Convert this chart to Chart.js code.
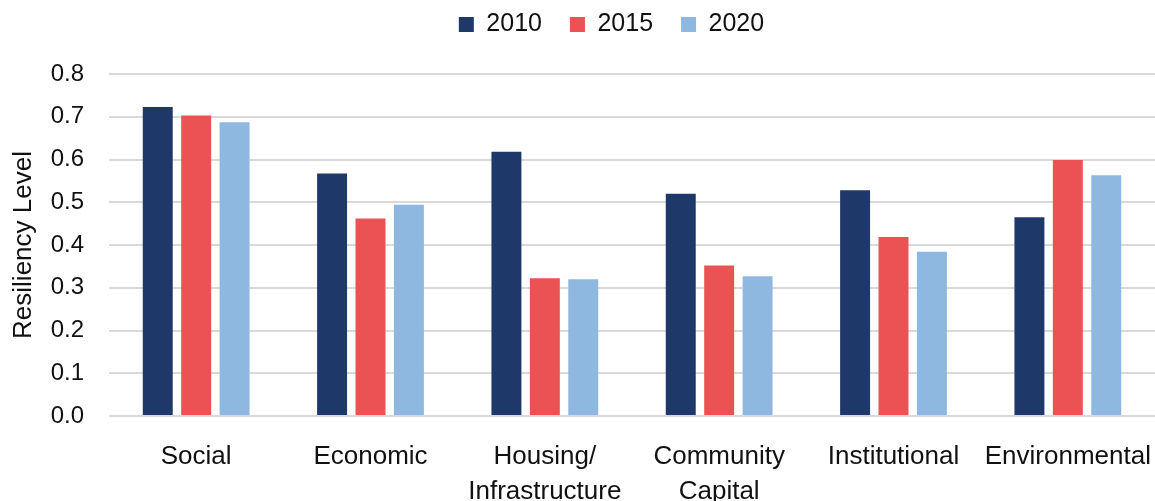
<!DOCTYPE html>
<html>
<head>
<meta charset="utf-8">
<title>Resiliency Level</title>
<script src="https://cdn.jsdelivr.net/npm/chart.js@4"></script>
<style>
  html, body { margin: 0; padding: 0; background: #fff; }
  #chart-wrap { width: 1155px; height: 501px; position: relative; }
</style>
</head>
<body>
<div id="chart-wrap">
  <canvas id="bar-chart"></canvas>
</div>
<script>
// categories (multi-line labels are arrays)
const categories = [
  "Social",
  "Economic",
  ["Housing/", "Infrastructure"],
  ["Community", "Capital"],
  "Institutional",
  "Environmental"
];

const years = ["2010", "2015", "2020"];

// values
const values2010 = [0.723, 0.567, 0.618, 0.520, 0.528, 0.465];
const values2015 = [0.703, 0.462, 0.322, 0.352, 0.419, 0.599];
const values2020 = [0.687, 0.494, 0.320, 0.327, 0.384, 0.563];

const yTicks = [0, 0.1, 0.2, 0.3, 0.4, 0.5, 0.6, 0.7, 0.8];

const barColors = ["#1E3869", "#EB5254", "#8FB8E1"];
const textColor = "#111";
const fontFamily = "'Liberation Sans', Arial, sans-serif";

// push the plot down under the legend, and nudge the legend right a bit
const legendTweak = {
  id: "legendTweak",
  beforeInit(chart) {
    const fit = chart.legend.fit;
    chart.legend.fit = function () {
      fit.bind(chart.legend)();
      this.height += 27;
    };
  },
  afterLayout(chart) {
    chart.legend.left += 32;
    chart.legend.right += 32;
  },
};

const ctx = document.getElementById("bar-chart").getContext("2d");

new Chart(ctx, {
  type: "bar",
  data: {
    labels: categories,
    datasets: [
      { label: years[0], data: values2010, backgroundColor: barColors[0] },
      { label: years[1], data: values2015, backgroundColor: barColors[1] },
      { label: years[2], data: values2020, backgroundColor: barColors[2] },
    ],
  },
  plugins: [legendTweak],
  options: {
    responsive: true,
    maintainAspectRatio: false,
    animation: false,
    categoryPercentage: 0.661,
    barPercentage: 0.78,
    layout: { padding: { left: 0, right: -4, top: -16, bottom: 0 } },
    plugins: {
      legend: {
        display: true,
        position: "top",
        labels: {
          boxWidth: 15,
          boxHeight: 15,
          padding: 28,
          color: textColor,
          font: { family: fontFamily, size: 25 },
        },
      },
      tooltip: { enabled: false },
    },
    scales: {
      x: {
        grid: { display: false, drawTicks: false },
        border: { display: false },
        afterFit: (axis) => {
          axis.height = 85;
          axis.paddingLeft = 0;
          axis.paddingRight = 0;
        },
        ticks: {
          color: textColor,
          padding: 23,
          maxRotation: 0,
          autoSkip: false,
          font: { family: fontFamily, size: 26, lineHeight: 1.35 },
        },
      },
      y: {
        min: 0,
        max: 0.8,
        afterBuildTicks: (axis) => {
          axis.ticks = yTicks.map((v) => ({ value: v }));
        },
        afterFit: (axis) => {
          axis.width = 109;
        },
        grid: { color: "#D9D9D9", lineWidth: 2, drawTicks: false },
        border: { display: false },
        ticks: {
          color: textColor,
          padding: 25,
          font: { family: fontFamily, size: 24 },
          callback: (v) => Number(v).toFixed(1),
        },
        title: {
          display: true,
          text: "Resiliency Level",
          color: textColor,
          padding: { top: 8, bottom: 12 },
          font: { family: fontFamily, size: 26 },
        },
      },
    },
  },
});
</script>
</body>
</html>
